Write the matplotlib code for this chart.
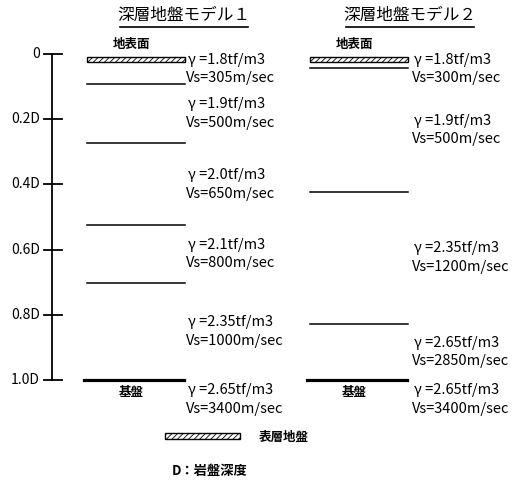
import matplotlib
matplotlib.use("Agg")
import matplotlib.pyplot as plt
from matplotlib.patches import Rectangle

plt.rcParams['font.family'] = ['Noto Sans CJK JP', 'DejaVu Sans']
plt.rcParams['hatch.linewidth'] = 0.6

# ---- data ----
tick_values = [0.0, 0.2, 0.4, 0.6, 0.8, 1.0]
tick_labels = ["0", "0.2D", "0.4D", "0.6D", "0.8D", "1.0D"]

model1_title = "深層地盤モデル１"
model1_bounds = [0.0, 0.092, 0.273, 0.525, 0.702, 1.0]
model1_gamma = ["1.8", "1.9", "2.0", "2.1", "2.35", "2.65"]
model1_vs = ["305", "500", "650", "800", "1000", "3400"]

model2_title = "深層地盤モデル２"
model2_bounds = [0.0, 0.043, 0.423, 0.828, 1.0]
model2_gamma = ["1.8", "1.9", "2.35", "2.65", "2.65"]
model2_vs = ["300", "500", "1200", "2850", "3400"]

surface_thickness = 0.02

# ---- figure ----
W, H = 531, 482
fig = plt.figure(figsize=(W / 100, H / 100), dpi=100)
ax = fig.add_axes([0, 0, 1, 1])
ax.set_axis_off()
y0, scale = 54.0, 326.0   # pixel of depth 0, pixels per D
ax.set_xlim(0, W)
ax.set_ylim((H - y0) / scale, -y0 / scale)

def py(p):
    return (p - y0) / scale

FS = 10.5

# depth axis
ax.plot([52, 52], [0, 1.0], color='black', lw=1.3)
for v, lab in zip(tick_values, tick_labels):
    ax.plot([44, 62], [v, v], color='black', lw=1.3)
    ax.text(40, v, lab, ha='right', va='center', fontsize=10)

def draw_model(bounds, gammas, vss, title, x0, x1, xt, xtitle):
    # title with underline
    ax.text(xtitle, py(16), title, ha='center', va='center', fontsize=12)
    ax.plot([xtitle - 64, xtitle + 64], [py(27), py(27)], color='black', lw=1.2)
    # surface layer (hatched)
    ax.add_patch(Rectangle((x0, bounds[0] + 0.008), x1 - x0, surface_thickness - 0.004,
                           facecolor='white', edgecolor='black', hatch='//////', lw=1.0))
    ax.text(x0 + 45, py(45), "地表面", ha='center', va='center', fontsize=9,
            fontweight='bold')
    # inner boundaries
    for b in bounds[1:-1]:
        ax.plot([x0, x1], [b, b], color='black', lw=1.1)
    # bedrock
    ax.plot([x0 - 3, x1 - 1], [bounds[-1], bounds[-1]], color='black', lw=2.3)
    ax.text(x0 + 44, py(393), "基盤", ha='center', va='center', fontsize=9,
            fontweight='bold')
    # layer labels
    n = len(bounds) - 1
    for i in range(n + 1):
        if i < n:
            mid = (bounds[i] + bounds[i + 1]) / 2
            mid = max(mid, 0.046)
        else:
            mid = 1.06
        ax.text(xt, mid - 0.029, "γ =%stf/m3" % gammas[i], ha='left', va='center',
                fontsize=FS)
        ax.text(xt - 2, mid + 0.029, "Vs=%sm/sec" % vss[i], ha='left', va='center',
                fontsize=FS)

draw_model(model1_bounds, model1_gamma, model1_vs, model1_title, 87, 185, 188, 184)
draw_model(model2_bounds, model2_gamma, model2_vs, model2_title, 310, 408, 414, 410)

# legend
ax.add_patch(Rectangle((165, py(439)), 75, py(433) - py(439),
                       facecolor='white', edgecolor='black', hatch='//////', lw=1.0))
ax.text(259, py(437), "表層地盤", ha='left', va='center', fontsize=9,
        fontweight='bold')
ax.text(172, py(471), "D：岩盤深度", ha='left', va='center', fontsize=9.5,
        fontweight='bold')

fig.savefig("out.png", dpi=100, facecolor='white')
